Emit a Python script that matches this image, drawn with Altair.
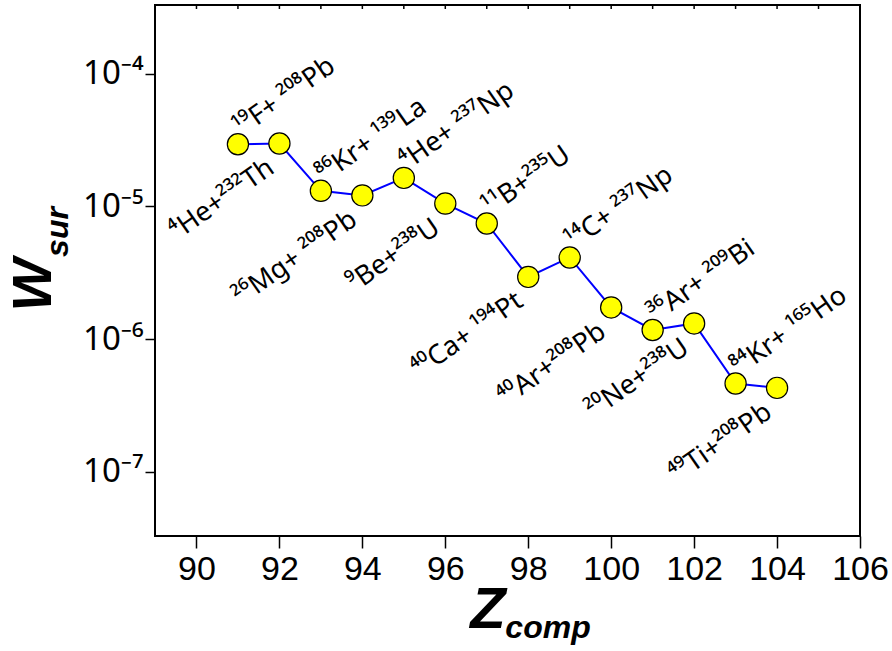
import math
import altair as alt
import pandas as pd

# ---- data ----
z_comp = [91, 92, 93, 94, 95, 96, 97, 98, 99, 100, 101, 102, 103, 104]
w_sur = [2.94e-5, 2.98e-5, 1.31e-5, 1.21e-5, 1.64e-5, 1.05e-5, 7.43e-6,
         2.94e-6, 4.12e-6, 1.73e-6, 1.17e-6, 1.31e-6, 4.62e-7, 4.28e-7]
reactions = ["¹⁹F+ ²⁰⁸Pb", "⁴He+²³²Th", "⁸⁶Kr+ ¹³⁹La", "²⁶Mg+ ²⁰⁸Pb",
             "⁴He+ ²³⁷Np", "⁹Be+²³⁸U", "¹¹B+²³⁵U", "⁴⁰Ca+ ¹⁹⁴Pt",
             "¹⁴C+ ²³⁷Np", "⁴⁰Ar+²⁰⁸Pb", "³⁶Ar+ ²⁰⁹Bi", "²⁰Ne+²³⁸U",
             "⁸⁴Kr+ ¹⁶⁵Ho", "⁴⁹Ti+²⁰⁸Pb"]
x_ticks = [90, 92, 94, 96, 98, 100, 102, 104, 106]
top_minor_ticks = list(range(90, 106))
y_ticks = [1e-7, 1e-6, 1e-5, 1e-4]
y_tick_labels = ["10⁻⁷", "10⁻⁶", "10⁻⁵", "10⁻⁴"]

df = pd.DataFrame({"z": z_comp, "w": w_sur, "label": reactions})
above_df = df[df["z"] % 2 == 1]
below_df = df[df["z"] % 2 == 0]
ticks_df = pd.DataFrame({"z": top_minor_ticks})

FONT = "Liberation Sans"
SUPFONT = "Noto Sans"

xs = alt.Scale(domain=[89, 106], nice=False, zero=False)
ys = alt.Scale(type="log", domain=[3.27e-8, 3.3e-4], nice=False)

# label expression for y axis built from the tick lists
expr = "''"
for v, lab in zip(y_ticks, y_tick_labels):
    expr = f"abs(log(datum.value)/LN10 - ({math.log10(v):.0f})) < 0.01 ? '{lab}' : " + expr

x_enc = alt.X("z:Q", scale=xs, axis=alt.Axis(
    values=x_ticks, title=None, labelFontSize=34, labelFont=FONT,
    labelColor="black", tickSize=12, tickWidth=1.5, tickColor="black",
    domain=False, grid=False, labelPadding=4, labelOverlap=False,
    labelFlush=False))
y_enc = alt.Y("w:Q", scale=ys, axis=alt.Axis(
    values=y_ticks, labelExpr=expr, title=None, labelFontSize=33,
    labelFont=SUPFONT, labelColor="black", tickSize=10, tickWidth=1.5,
    tickColor="black", domain=False, grid=False, labelPadding=2,
    labelOverlap=False, labelFlush=False))

base = alt.Chart(df)

line = base.mark_line(color="#0000FF", strokeWidth=2).encode(x=x_enc, y=y_enc)

points = base.mark_circle(size=450, color="#FFFF00", opacity=1,
                          stroke="black", strokeWidth=1.2).encode(x=x_enc, y=y_enc)

above = alt.Chart(above_df).mark_text(
    align="left", baseline="alphabetic", dx=7, dy=-4, angle=325,
    fontSize=27, font=SUPFONT, color="black").encode(
    x=x_enc, y=y_enc, text="label:N")

below = alt.Chart(below_df).mark_text(
    align="right", baseline="alphabetic", dx=-19, dy=21, angle=325,
    fontSize=27, font=SUPFONT, color="black").encode(
    x=x_enc, y=y_enc, text="label:N")

top_ticks = alt.Chart(ticks_df).mark_rule(color="black", strokeWidth=1.5).encode(
    x=x_enc, y=alt.value(0), y2=alt.value(4))

one = alt.Data(values=[{"a": 1}])
title_style = dict(font=FONT, fontWeight="bold", fontStyle="italic", color="black")
w_big = alt.Chart(one).mark_text(text="W", align="center", angle=270,
                                 baseline="alphabetic", fontSize=56, **title_style).encode(
    x=alt.value(-104), y=alt.value(280))
w_sub = alt.Chart(one).mark_text(text="sur", align="center", angle=270,
                                 baseline="alphabetic", fontSize=32, **title_style).encode(
    x=alt.value(-87), y=alt.value(227))
z_big = alt.Chart(one).mark_text(text="Z", align="center",
                                 baseline="alphabetic", fontSize=58, **title_style).encode(
    x=alt.value(333), y=alt.value(623))
z_sub = alt.Chart(one).mark_text(text="comp", align="center",
                                 baseline="alphabetic", fontSize=32, **title_style).encode(
    x=alt.value(393), y=alt.value(633))

chart = alt.layer(line, points, above, below, top_ticks, w_big, w_sub, z_big, z_sub).properties(
    width=705, height=531,
    autosize=alt.AutoSizeParams(type="none"),
    padding={"left": 155, "top": 5, "right": 32, "bottom": 115},
    background="white",
).configure_view(stroke="black", strokeWidth=2)

chart.save("out.html", embed_options={"renderer": "svg", "actions": False})
